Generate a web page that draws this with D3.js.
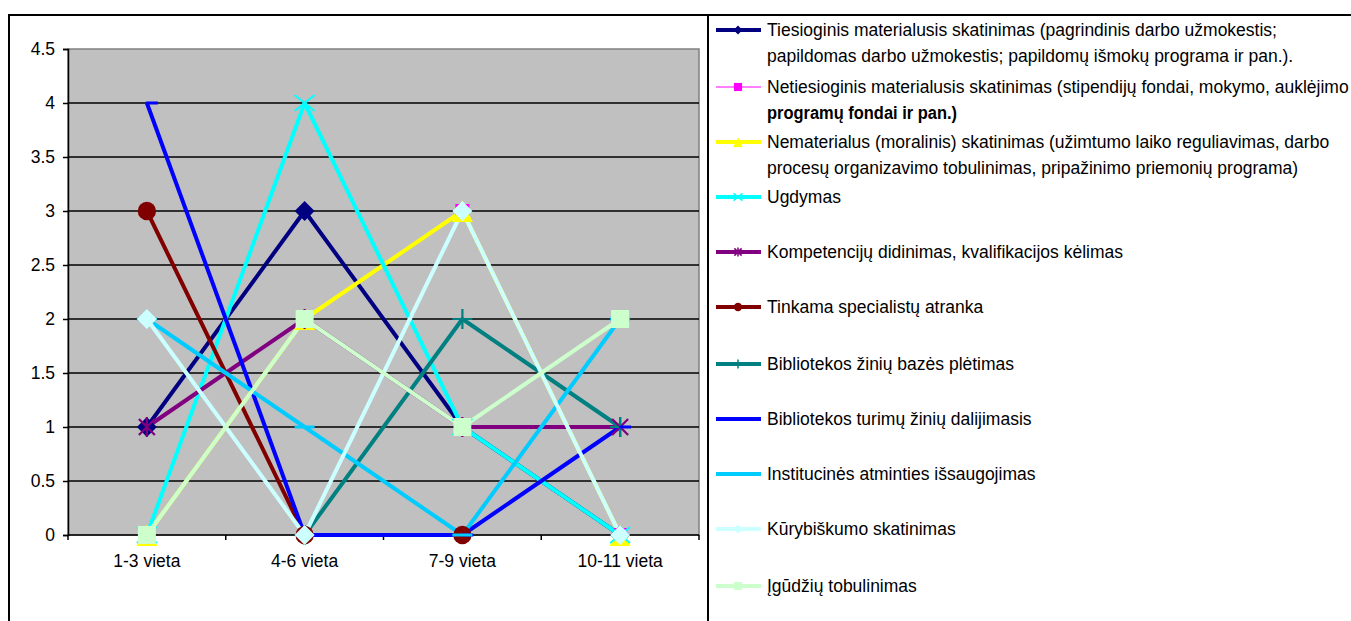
<!DOCTYPE html>
<html>
<head>
<meta charset="utf-8">
<script src="https://cdn.jsdelivr.net/npm/d3@7"></script>
<style>
  body { margin: 0; background: #fff; }
  svg { display: block; font-family: "Liberation Sans", Arial, sans-serif; }
</style>
</head>
<body>
<svg id="chart" width="1351" height="621"></svg>
<script>
// Rank groups on the category axis
const categories = ["1-3 vieta", "4-6 vieta", "7-9 vieta", "10-11 vieta"];
const yTicks = [0, 0.5, 1, 1.5, 2, 2.5, 3, 3.5, 4, 4.5];

// Series values per rank group (null = no answer in that group)
const tiesioginis   = [1, 3, 1, 0];
const netiesioginis = [0, 2, 3, 0];
const nematerialus  = [0, 2, 3, 0];
const ugdymas       = [0, 4, 1, 0];
const kompetencijos = [1, 2, 1, 1];
const atranka       = [3, 0, 0, null];
const bazesPletimas = [null, 0, 2, 1];
const dalijimasis   = [4, 0, 0, 1];
const atmintis      = [2, 1, 0, 2];
const kurybiskumas  = [2, 0, 3, 0];
const igudziai      = [0, 2, 1, 2];

// Legend labels (one array entry per printed line)
const seriesLabels = [
  ["Tiesioginis materialusis skatinimas (pagrindinis darbo užmokestis;",
   "papildomas darbo užmokestis; papildomų išmokų programa ir pan.)."],
  ["Netiesioginis materialusis skatinimas (stipendijų fondai, mokymo, auklėjimo",
   "programų fondai ir pan.)"],
  ["Nematerialus (moralinis) skatinimas (užimtumo laiko reguliavimas, darbo",
   "procesų organizavimo tobulinimas, pripažinimo priemonių programa)"],
  ["Ugdymas"],
  ["Kompetencijų didinimas, kvalifikacijos kėlimas"],
  ["Tinkama specialistų atranka"],
  ["Bibliotekos žinių bazės plėtimas"],
  ["Bibliotekos turimų žinių dalijimasis"],
  ["Institucinės atminties išsaugojimas"],
  ["Kūrybiškumo skatinimas"],
  ["Įgūdžių tobulinimas"]
];

const seriesValues = [tiesioginis, netiesioginis, nematerialus, ugdymas, kompetencijos,
  atranka, bazesPletimas, dalijimasis, atmintis, kurybiskumas, igudziai];

// Styling
const seriesColors = ["#000080", "#FF00FF", "#FFFF00", "#00FFFF", "#800080",
  "#800000", "#008080", "#0000FF", "#00CCFF", "#CCFFFF", "#CCFFCC"];
const seriesMarkers = ["diamond", "smallSquare", "triangle", "cross", "asterisk",
  "circle", "plus", "dashRight", "dash", "diamond", "square"];
const seriesWidths = [4, 1, 4, 4, 4, 4, 4, 4, 4, 4, 4];

const series = seriesValues.map((values, i) => ({
  labels: seriesLabels[i], values, color: seriesColors[i],
  marker: seriesMarkers[i], width: seriesWidths[i]
}));

const FONT = 17.5;
const svg = d3.select("#chart");

// Frames: chart area and legend box
svg.append("rect").attr("x", 9).attr("y", 15).attr("width", 699).attr("height", 640)
  .attr("fill", "#fff").attr("stroke", "#000").attr("stroke-width", 2);
svg.append("rect").attr("x", 708).attr("y", 15).attr("width", 700).attr("height", 640)
  .attr("fill", "#fff").attr("stroke", "#000").attr("stroke-width", 2);

const plot = { left: 68, right: 699, top: 49, bottom: 535 };

const x = d3.scaleBand().domain(categories).range([plot.left, plot.right]);
const cx = c => x(c) + x.bandwidth() / 2;
const y = d3.scaleLinear().domain([0, 4.5]).range([plot.bottom, plot.top]);

// Plot background
svg.append("rect")
  .attr("x", plot.left).attr("y", plot.top)
  .attr("width", plot.right - plot.left).attr("height", plot.bottom - plot.top)
  .attr("fill", "#C0C0C0").attr("stroke", "#808080").attr("stroke-width", 1.5);

// Horizontal gridlines
svg.append("g").selectAll("line")
  .data(yTicks.filter(t => t > 0 && t < 4.5))
  .join("line")
  .attr("x1", plot.left).attr("x2", plot.right)
  .attr("y1", d => y(d)).attr("y2", d => y(d))
  .attr("stroke", "#000").attr("stroke-width", 1.5);

// Y axis
const yAxis = svg.append("g")
  .attr("transform", `translate(${plot.left},0)`)
  .call(d3.axisLeft(y).tickValues(yTicks).tickSize(5).tickPadding(8).tickFormat(d => String(d)));
yAxis.select(".domain").attr("stroke", "#000").attr("stroke-width", 1.5);
yAxis.selectAll(".tick line").attr("stroke", "#000").attr("stroke-width", 1.5);
yAxis.selectAll("text").attr("font-size", FONT).attr("fill", "#000")
  .attr("font-family", "Liberation Sans, Arial, sans-serif");

// X axis: tick marks on category boundaries, labels centred in each band
const xAxis = svg.append("g");
xAxis.append("line")
  .attr("x1", plot.left).attr("x2", plot.right)
  .attr("y1", y(0)).attr("y2", y(0))
  .attr("stroke", "#000").attr("stroke-width", 1.5);
const boundaries = categories.map(c => x(c)).concat([x.range()[1]]);
xAxis.selectAll("line.tick").data(boundaries).join("line").attr("class", "tick")
  .attr("x1", d => d).attr("x2", d => d)
  .attr("y1", y(0)).attr("y2", y(0) + 5)
  .attr("stroke", "#000").attr("stroke-width", 1.5);
xAxis.selectAll("text").data(categories).join("text")
  .attr("x", d => cx(d)).attr("y", y(0) + 32)
  .attr("text-anchor", "middle").attr("font-size", FONT).attr("fill", "#000")
  .text(d => d);

// Marker drawing
function drawMarker(g, type, color, s) {
  const r = s / 2;
  switch (type) {
    case "diamond":
      g.append("path").attr("d", `M0,${-r}L${r},0L0,${r}L${-r},0Z`).attr("fill", color);
      break;
    case "square":
      g.append("rect").attr("x", -r * 0.9).attr("y", -r * 0.9)
        .attr("width", r * 1.8).attr("height", r * 1.8).attr("fill", color);
      break;
    case "smallSquare":
      g.append("rect").attr("x", -r * 0.7).attr("y", -r * 0.7)
        .attr("width", r * 1.4).attr("height", r * 1.4).attr("fill", color);
      break;
    case "triangle":
      g.append("path").attr("d", `M0,${-r * 1.05}L${r * 1.05},${r * 1.1}L${-r * 1.05},${r * 1.1}Z`).attr("fill", color);
      break;
    case "circle":
      g.append("circle").attr("r", r * 0.92).attr("fill", color);
      break;
    case "cross":
      g.append("path").attr("d", `M${-r},${-r * 0.8}L${r},${r * 0.8}M${-r},${r * 0.8}L${r},${-r * 0.8}`)
        .attr("stroke", color).attr("stroke-width", Math.max(1.5, s / 10)).attr("fill", "none");
      break;
    case "asterisk":
      g.append("path").attr("d",
        `M${-r * 0.8},${-r * 0.8}L${r * 0.8},${r * 0.8}M${-r * 0.8},${r * 0.8}L${r * 0.8},${-r * 0.8}M0,${-r}L0,${r}`)
        .attr("stroke", color).attr("stroke-width", Math.max(1.5, s / 9)).attr("fill", "none");
      break;
    case "plus":
      g.append("path").attr("d", `M${-r},0L${r},0M0,${-r}L0,${r}`)
        .attr("stroke", color).attr("stroke-width", Math.max(1.5, s / 9)).attr("fill", "none");
      break;
    case "dash":
      g.append("line").attr("x1", -r).attr("x2", r).attr("y1", 0).attr("y2", 0)
        .attr("stroke", color).attr("stroke-width", 3);
      break;
    case "dashRight":
      g.append("line").attr("x1", -1).attr("x2", r * 1.1).attr("y1", 0).attr("y2", 0)
        .attr("stroke", color).attr("stroke-width", 3);
      break;
  }
}

// Lines first, then every series' markers on top
const line = d3.line()
  .defined(d => d.v != null)
  .x(d => cx(d.c)).y(d => y(d.v));

const linesG = svg.append("g");
series.forEach(s => {
  const pts = categories.map((c, i) => ({ c, v: s.values[i] }));
  linesG.append("path")
    .attr("d", line(pts))
    .attr("fill", "none").attr("stroke", s.color)
    .attr("stroke-width", s.width)
    .attr("stroke-linejoin", "round");
});

const markersG = svg.append("g");
series.forEach(s => {
  categories.forEach((c, i) => {
    const v = s.values[i];
    if (v == null) return;
    const g = markersG.append("g").attr("transform", `translate(${cx(c)},${y(v)})`);
    drawMarker(g, s.marker, s.color, 20);
  });
});

// Legend
const legendRowY = [30, 87, 142, 197, 252, 307, 364, 419, 474, 529, 586];
const legend = svg.append("g");
series.forEach((s, i) => {
  const ly = legendRowY[i];
  const row = legend.append("g");
  row.append("line").attr("x1", 716).attr("x2", 761).attr("y1", ly).attr("y2", ly)
    .attr("stroke", s.color).attr("stroke-width", s.width === 1 ? 1.2 : 4);
  const mg = row.append("g").attr("transform", `translate(738,${ly})`);
  if (s.marker !== "dash" && s.marker !== "dashRight") {
    drawMarker(mg, s.marker === "smallSquare" ? "square" : s.marker, s.color, 9);
  }
  s.labels.forEach((txt, k) => {
    const t = row.append("text")
      .attr("x", 767).attr("y", ly + 6 + k * 26)
      .attr("font-size", FONT).attr("fill", "#000")
      .text(txt);
    if (i === 1 && k === 1) {
      t.attr("font-weight", "bold").attr("font-size", 18)
        .attr("textLength", 190).attr("lengthAdjust", "spacingAndGlyphs");
    }
  });
});
</script>
</body>
</html>
